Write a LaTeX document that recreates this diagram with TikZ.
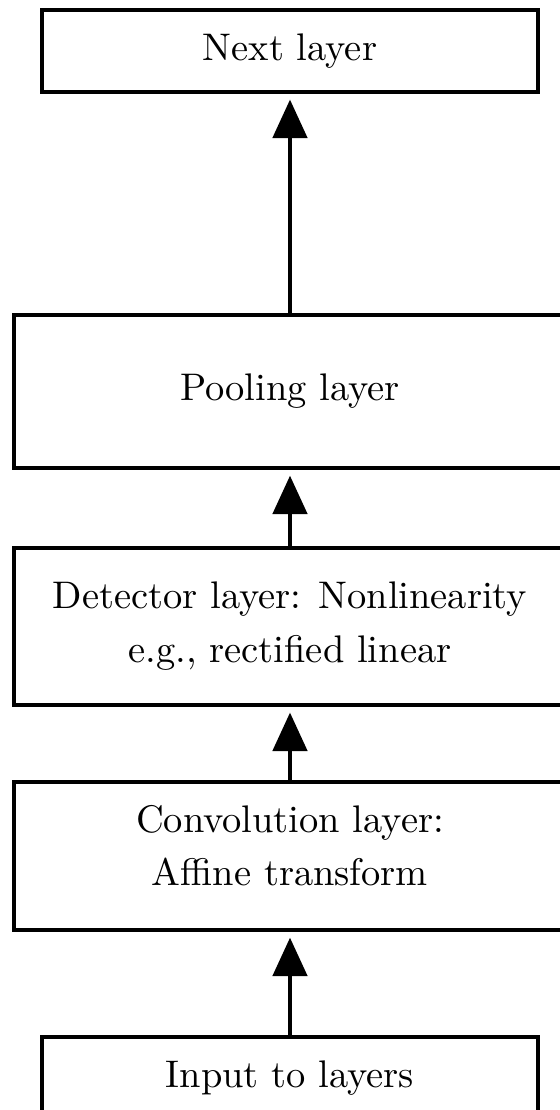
\documentclass[tikz,border=0pt]{standalone}
\usetikzlibrary{arrows.meta}

\tikzset{
  layerbox/.style={draw, line width=1pt, align=center, inner sep=0pt},
  smallbox/.style={layerbox, minimum width=129pt, minimum height=21.3pt},
  widebox/.style={layerbox, minimum width=143.5pt},
  flow/.style={-{Triangle[width=9pt,length=10pt]}, line width=0.8pt, shorten >=1.5pt}
}

\begin{document}
\begin{tikzpicture}[x=0.26pt, y=-0.26pt]
            \useasboundingbox (0,0) rectangle (560,1110);
            \clip (0,0) rectangle (560,1110);
            \node[smallbox] (next) at (290,51) {Next layer};
            \node[widebox, minimum height=39.8pt] (pool) at (290,391.5) {Pooling layer};
            \node[widebox, minimum height=40.8pt] (detect) at (290,626.5) {Detector layer: Nonlinearity\\[2pt] e.g., rectified linear};
            \node[widebox, minimum height=38.5pt, text depth=5.5pt] (conv) at (290,856) {Convolution layer:\\[2pt] Affine transform};
            \node[smallbox] (input) at (290,1078) {Input to layers};
            \draw[flow] (pool) -- (next);
            \draw[flow] (detect) -- (pool);
            \draw[flow] (conv) -- (detect);
            \draw[flow] (input) -- (conv);
        \end{tikzpicture}
\end{document}
